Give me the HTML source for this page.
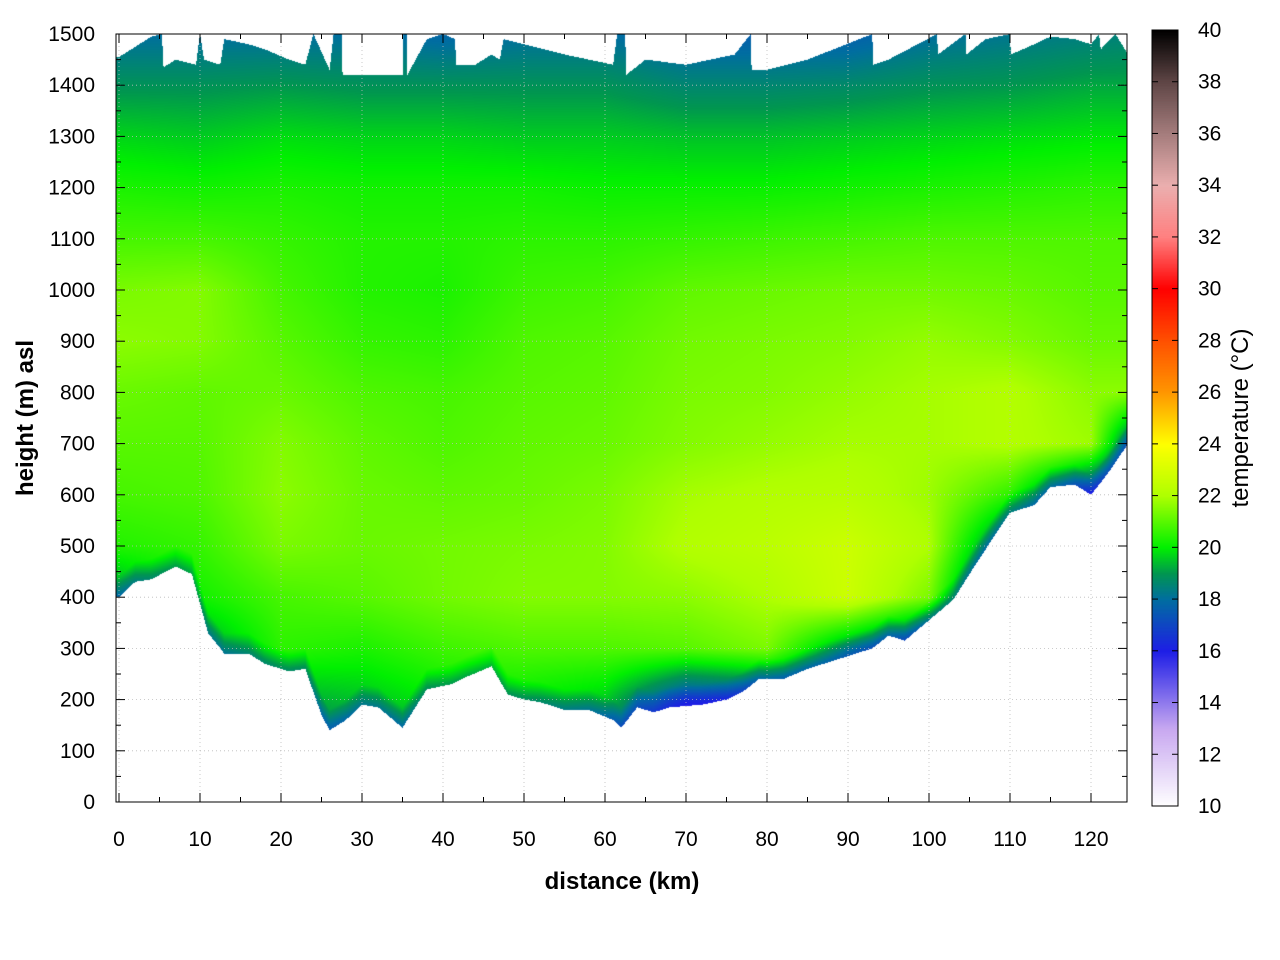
<!DOCTYPE html>
<html><head><meta charset="utf-8"><style>
body{margin:0;background:#fff;width:1280px;height:960px;overflow:hidden;position:relative}
canvas,svg{position:absolute;left:0;top:0}
text{font-family:"Liberation Sans",sans-serif;fill:#000}
</style></head><body>
<canvas id="cv" width="1280" height="960"></canvas>
<svg id="sv" width="1280" height="960"></svg>
<script>
const gridKm=[0,10,20,30,40,50,60,70,80,90,100,110,120,125];
const gridH=[1500,1400,1300,1200,1100,1000,900,800,700,600,500,400,300,200,100,0];
const row1500=[18,18,18,18,17.8,18,18,17.6,17.6,17.6,18,18.2,18.4,18.5];
const row1400=[18.9,18.9,19,18.9,18.9,18.9,18.9,18.6,18.6,18.7,18.9,19,19.2,19.2];
const row1300=[19.7,19.6,19.8,19.7,19.7,19.6,19.6,19.5,19.5,19.6,19.7,19.8,19.9,19.9];
const row1200=[20.3,20.2,20.3,20.2,20.2,20.2,20.1,20.1,20.1,20.2,20.3,20.4,20.5,20.5];
const row1100=[20.8,20.8,20.6,20.4,20.4,20.5,20.5,20.6,20.7,20.8,20.9,20.9,20.9,20.9];
const row1000=[21.4,21.5,20.8,20.4,20.3,20.7,20.8,21.1,21.2,21.3,21.3,21.2,21,21];
const row900=[21.6,21.5,21,20.6,20.5,20.9,21,21.3,21.4,21.5,21.7,21.5,21.2,21.2];
const row800=[21.2,21.1,21.2,20.9,20.8,21,21.1,21.4,21.5,21.7,21.9,22.1,21.6,21.6];
const row700=[21,21,21.5,21.1,20.9,21.1,21.2,21.5,21.7,21.9,21.9,22.1,21.8,18];
const row600=[20.8,20.9,21.6,21.2,21.1,21.2,21.4,21.9,22.1,22.2,21.8,20.5,17,17];
const row500=[20.4,20.6,21.4,21.2,21.3,21.4,21.5,22.1,22.3,22.7,22,18,16,16];
const row400=[19,20.2,20.8,21,21.3,21.5,21.5,21.6,22,22.7,21.4,16,16,16];
const row300=[18,19,20.5,20.3,20.7,20.9,20.9,21,21.4,19,17,16,16,16];
const row200=[18,18,19.2,19.5,20,20,19.6,17.2,17.5,17,16,16,16,16];
const row100=[18,18,18,18.5,18.5,19,18,16,16,16,16,16,16,16];
const row0=[18,18,18,18.5,18.5,19,18,16,16,16,16,16,16,16];
const terrainKm=[0,2,4,7,9,11,13,16,18,21,23,25,26,28,30,32,35,37,38,41,43,46,48,50,52,55,58,61,62,64,66,68,72,75,77,79,82,85,90,93,95,97,100,103,106,110,113,115,118,120,122,124.6];
const terrainH=[400,430,435,460,445,330,290,290,270,255,260,170,140,160,190,185,145,195,220,230,245,265,210,200,195,180,180,160,145,185,175,185,190,200,215,240,240,260,285,300,325,315,355,395,470,565,580,615,620,600,640,700];
const topKm=[0,4,5.3,5.5,7,9.5,10,10.5,12.5,13,16,18,21,23,24,26,26.5,27.5,27.6,35,35.1,35.5,35.6,38,40,41.5,41.6,44,46,47,47.5,55,61,61.5,62.5,62.6,65,70,76,78,78.1,80,85,93,93.1,95,101,101.1,104.5,104.6,107,110,110.1,113,115,118,120,121,121.2,123,124.6];
const topH=[1455,1495,1500,1435,1450,1440,1500,1450,1440,1490,1480,1470,1450,1440,1500,1430,1500,1500,1420,1420,1500,1500,1420,1490,1500,1490,1440,1440,1460,1450,1490,1460,1440,1500,1500,1420,1450,1440,1460,1500,1430,1430,1450,1500,1440,1450,1500,1460,1500,1460,1490,1500,1460,1480,1495,1490,1480,1500,1470,1500,1460];
const xTicks=[0,10,20,30,40,50,60,70,80,90,100,110,120];
const yTicks=[0,100,200,300,400,500,600,700,800,900,1000,1100,1200,1300,1400,1500];
const cbTicks=[10,12,14,16,18,20,22,24,26,28,30,32,34,36,38,40];
const palT=[10,13,16,18,19,20,22,24,26,28,30,32,34,36,38,40];
const palC=[[255,255,255],[200,168,240],[30,30,230],[0,110,160],[0,150,80],[0,240,0],[175,255,0],[255,255,0],[255,150,0],[255,80,0],[255,0,0],[255,128,128],[235,175,175],[165,125,125],[95,70,70],[0,0,0]];
const rows=[row1500,row1400,row1300,row1200,row1100,row1000,row900,row800,row700,row600,row500,row400,row300,row200,row100,row0];

const X0=119,XS=8.1,Y0=802,YS=768/1500,PL=116,PR=1127,PT=34,PB=802;
const xs=k=>X0+k*XS, ys=h=>Y0-h*YS;
function lin(xa,ya,x){if(x<=xa[0])return ya[0];for(let i=1;i<xa.length;i++){if(x<=xa[i]){const t=(x-xa[i-1])/(xa[i]-xa[i-1]);return ya[i-1]+t*(ya[i]-ya[i-1]);}}return ya[ya.length-1];}
function temp(k,h){
 let ci=0;while(ci<gridKm.length-2&&k>gridKm[ci+1])ci++;
 let tx=Math.min(1,Math.max(0,(k-gridKm[ci])/(gridKm[ci+1]-gridKm[ci])));
 let ri=0;while(ri<gridH.length-2&&h<gridH[ri+1])ri++;
 let ty=Math.min(1,Math.max(0,(gridH[ri]-h)/(gridH[ri]-gridH[ri+1])));
 const a=rows[ri][ci]*(1-tx)+rows[ri][ci+1]*tx, b=rows[ri+1][ci]*(1-tx)+rows[ri+1][ci+1]*tx;
 return a*(1-ty)+b*ty;}
function col(t){t=Math.max(10,Math.min(40,t));let i=0;while(i<palT.length-2&&t>palT[i+1])i++;const f=(t-palT[i])/(palT[i+1]-palT[i]);return palC[i].map((c,j)=>Math.round(c+(palC[i+1][j]-c)*f));}
const cv=document.getElementById('cv'),ctx=cv.getContext('2d');
const W=PR-PL,H=PB-PT,img=ctx.createImageData(W,H);
for(let px=0;px<W;px++){const k=(PL+px+0.5-X0)/XS;const bot=lin(terrainKm,terrainH,k),top=lin(topKm,topH,k);
 for(let py=0;py<H;py++){const h=(Y0-(PT+py+0.5))/YS;if(h<bot||h>top)continue;
  let t=temp(k,h);const d=h-bot;if(d<40)t-= (40-d)/40*1.2;
  const c=col(t),o=(py*W+px)*4;img.data[o]=c[0];img.data[o+1]=c[1];img.data[o+2]=c[2];img.data[o+3]=255;}}
ctx.putImageData(img,PL,PT);
const CB={x:1152,y:30,w:26,h:776};
for(let py=0;py<CB.h;py++){const t=40-py/CB.h*30;const c=col(t);ctx.fillStyle=`rgb(${c[0]},${c[1]},${c[2]})`;ctx.fillRect(CB.x,CB.y+py,CB.w,1);}
const sv=document.getElementById('sv'),NS='http://www.w3.org/2000/svg';
function el(tag,a,txt){const e=document.createElementNS(NS,tag);for(const k in a)e.setAttribute(k,a[k]);if(txt!=null)e.textContent=txt;sv.appendChild(e);return e;}
for(const k of xTicks){const x=xs(k);
 const g=el('line',{x1:x,x2:x,y1:PT,y2:PB,stroke:'#bbb','stroke-width':0.8,'stroke-dasharray':'1,3'});
 
 const t1=el('line',{x1:x,x2:x,y1:PB,y2:PB-9,stroke:'#000'});
 const t2=el('line',{x1:x,x2:x,y1:PT,y2:PT+9,stroke:'#000'});
 const l=el('text',{x:x,y:846,'font-size':21,'text-anchor':'middle'},k);
 const m=xs(k+5);if(m<PR){const a=el('line',{x1:m,x2:m,y1:PB,y2:PB-5,stroke:'#000'});
  const b=el('line',{x1:m,x2:m,y1:PT,y2:PT+5,stroke:'#000'});}}
for(const h of yTicks){const y=ys(h);
 const g=el('line',{x1:PL,x2:PR,y1:y,y2:y,stroke:'#bbb','stroke-width':0.8,'stroke-dasharray':'1,3'});
 
 const t1=el('line',{x1:PL,x2:PL+9,y1:y,y2:y,stroke:'#000'});
 const t2=el('line',{x1:PR,x2:PR-9,y1:y,y2:y,stroke:'#000'});
 const l=el('text',{x:95,y:y+7,'font-size':21,'text-anchor':'end'},h);
 if(h<1500){const m=ys(h+50);const a=el('line',{x1:PL,x2:PL+5,y1:m,y2:m,stroke:'#000'});
  const b=el('line',{x1:PR,x2:PR-5,y1:m,y2:m,stroke:'#000'});}}
const fr=el('rect',{x:PL,y:PT,width:PR-PL,height:PB-PT,fill:'none',stroke:'#000','stroke-width':1});

const cbr=el('rect',{x:CB.x,y:CB.y,width:CB.w,height:CB.h,fill:'none',stroke:'#000','stroke-width':1});

for(const t of cbTicks){const y=CB.y+(40-t)/30*CB.h;
 const a=el('line',{x1:CB.x,x2:CB.x+6,y1:y,y2:y,stroke:'#000'});
 const b=el('line',{x1:CB.x+CB.w,x2:CB.x+CB.w-6,y1:y,y2:y,stroke:'#000'});
 const l=el('text',{x:1198,y:y+7,'font-size':21},t);}
const xt=el('text',{x:622,y:889,'font-size':24,'font-weight':'bold','text-anchor':'middle'},'distance (km)');

const yt=el('text',{x:0,y:0,'font-size':24,'font-weight':'bold','text-anchor':'middle',transform:'translate(33,418) rotate(-90)'},'height (m) asl');

const ct=el('text',{x:0,y:0,'font-size':24,'text-anchor':'middle',transform:'translate(1248,418) rotate(-90)'},'temperature (°C)');

</script></body></html>
